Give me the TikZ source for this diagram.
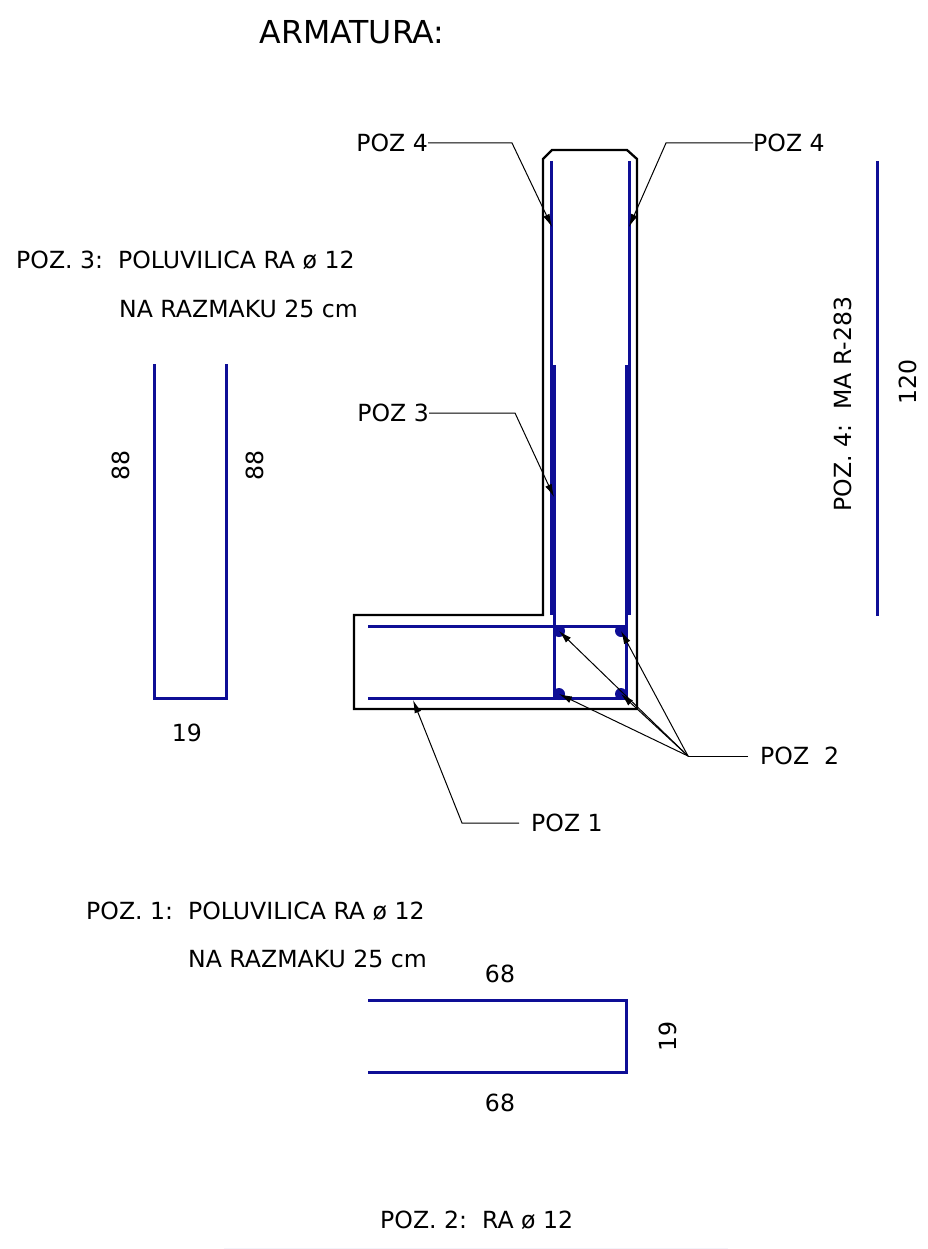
\documentclass[tikz,border=0pt]{standalone}
\usepackage{fontspec}
\setmainfont{DejaVu Sans}
\usetikzlibrary{arrows.meta}
\definecolor{rebar}{RGB}{14,14,150}
\definecolor{paleedge}{RGB}{244,244,250}
\tikzset{
  x=1pt,y=-1pt,
  bar/.style={draw=rebar,line width=3pt},
  outline/.style={draw=black,line width=2.3pt},
  lead/.style={draw=black,line width=1pt},
  arr/.style={lead,-{Latex[length=13pt,width=7pt]}},
  lbl/.style={inner sep=0pt,font=\fontsize{23.6}{27}\selectfont,text=black},
  dot/.style={circle,fill=rebar,inner sep=0pt,minimum size=12pt}
}
\begin{document}
\begin{tikzpicture}
\useasboundingbox (0,0) rectangle (928,1249);
\node[lbl,font=\fontsize{31.6}{36}\selectfont] (title) at (352,32) {ARMATURA:};
\draw[outline] (552,150) -- (627,150) -- (637,159) -- (637,709) -- (354,709) -- (354,615) -- (543,615) -- (543,159) -- cycle;
\draw[bar] (551,161) -- (551,615);
\draw[bar] (629,161) -- (629,615);
\draw[bar] (554,365) -- (554,698);
\draw[bar] (626,365) -- (626,698);
\draw[bar] (368,626) -- (626,626);
\draw[bar] (368,698) -- (626,698);
\node[dot] (d1) at (559,631) {};
\node[dot] (d2) at (621,631) {};
\node[dot] (d3) at (559,694) {};
\node[dot] (d4) at (621,694) {};
\node[lbl,anchor=east] (l4a) at (428,143) {POZ 4};
\node[lbl,anchor=west] (l4b) at (753,143) {POZ 4};
\node[lbl,anchor=east] (l3) at (429,413) {POZ 3};
\node[lbl,anchor=west] (l2) at (760,756) {POZ\ \ 2};
\node[lbl,anchor=west] (l1) at (531,823) {POZ 1};
\coordinate (t4a) at (552,227); \coordinate (t4b) at (629,227);
\coordinate (t3) at (554,497);
\coordinate (t1) at (413,700);
\coordinate (e2) at (748,756);
\coordinate (e1) at (519,823);
\draw[arr] (l4a.east) -- (512,143) -- (t4a);
\draw[arr] (l4b.west) -- (666,143) -- (t4b);
\draw[arr] (l3.east) -- (515,413) -- (t3);
\draw[lead] (e2) -- (688,756) coordinate (k2);
\draw[arr] (k2) -- (d1.center);
\draw[arr] (k2) -- (d2.center);
\draw[arr] (k2) -- (d3.center);
\draw[arr] (k2) -- (d4.center);
\draw[arr] (e1) -- (462,823) -- (t1);
% POZ 3
\node[lbl,anchor=west] (a1) at (16,260) {POZ. 3:\ \ POLUVILICA RA ø 12};
\node[lbl,anchor=west] (a2) at (119,309) {NA RAZMAKU 25 cm};
\draw[bar] (154,364) -- (154,698) -- (226,698) -- (226,364);
\node[lbl,rotate=90] (a3) at (121,465) {88};
\node[lbl,rotate=90] (a4) at (255,465) {88};
\node[lbl] (a5) at (187,733) {19};
% POZ 4
\draw[bar] (877,161) -- (877,616);
\node[lbl,rotate=90] (b1) at (843,404) {POZ. 4:\ \ MA R-283};
\node[lbl,rotate=90] (b2) at (908,382) {120};
% POZ 1
\node[lbl,anchor=west] (c1) at (86,911) {POZ. 1:\ \ POLUVILICA RA ø 12};
\node[lbl,anchor=west] (c2) at (188,959) {NA RAZMAKU 25 cm};
\node[lbl] (c3) at (500,974) {68};
\draw[bar] (368,1000) -- (626,1000) -- (626,1072) -- (368,1072);
\node[lbl,rotate=90] (c4) at (668,1036) {19};
\node[lbl] (c5) at (500,1103) {68};
% POZ 2
\node[lbl,anchor=west] (e1) at (380,1220) {POZ. 2:\ \ RA ø 12};
\draw[draw=paleedge,line width=1pt] (224,1248.5) -- (728,1248.5);
\end{tikzpicture}
\end{document}
